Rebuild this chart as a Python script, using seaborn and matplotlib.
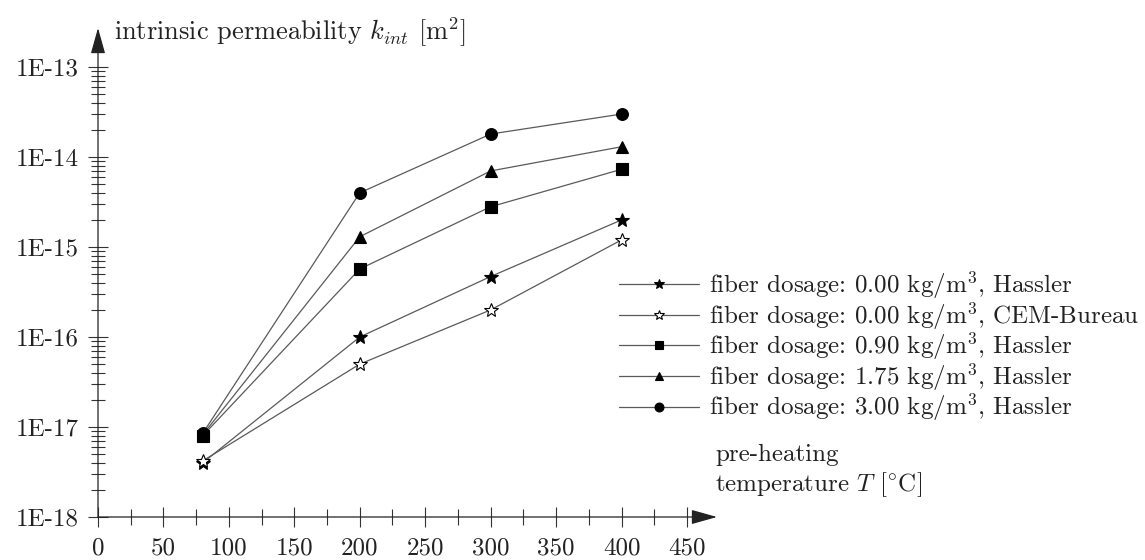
import numpy as np
import pandas as pd
import matplotlib
matplotlib.use("Agg")
import matplotlib.pyplot as plt
import matplotlib.ticker as mticker
import seaborn as sns

# ---- data ----
temperatures = [80, 200, 300, 400]
k_000_hassler = [4.0e-18, 1.0e-16, 4.7e-16, 2.0e-15]
k_000_cem = [4.2e-18, 5.0e-17, 2.0e-16, 1.2e-15]
k_090_hassler = [8.0e-18, 5.7e-16, 2.8e-15, 7.3e-15]
k_175_hassler = [8.2e-18, 1.3e-15, 7.0e-15, 1.3e-14]
k_300_hassler = [8.5e-18, 4.0e-15, 1.8e-14, 3.0e-14]

series_labels = [
    r"fiber dosage: 0.00 $\mathrm{kg/m^3}$, Hassler",
    r"fiber dosage: 0.00 $\mathrm{kg/m^3}$, CEM-Bureau",
    r"fiber dosage: 0.90 $\mathrm{kg/m^3}$, Hassler",
    r"fiber dosage: 1.75 $\mathrm{kg/m^3}$, Hassler",
    r"fiber dosage: 3.00 $\mathrm{kg/m^3}$, Hassler",
]
x_ticks = [0, 50, 100, 150, 200, 250, 300, 350, 400, 450]
y_ticks = [1e-18, 1e-17, 1e-16, 1e-15, 1e-14, 1e-13]
y_tick_labels = ["1E-18", "1E-17", "1E-16", "1E-15", "1E-14", "1E-13"]
y_title = r"intrinsic permeability $k_{int}$ $[\mathrm{m}^2]$"
x_title_1 = "pre-heating"
x_title_2 = r"temperature $T$ $[{}^{\circ}\mathrm{C}]$"

# ---- style ----
sns.set_style("white")
plt.rcParams["font.family"] = ["cmr10", "DejaVu Serif"]
plt.rcParams["mathtext.fontset"] = "cm"
plt.rcParams["axes.unicode_minus"] = False
FS = 18

W, H = 1145, 560
fig = plt.figure(figsize=(W / 100, H / 100), dpi=100)
x0, x_tip = 98, 717
y0, y_tip = 517, 28
ax = fig.add_axes([x0 / W, (H - y0) / H, (x_tip - x0) / W, (y0 - y_tip) / H])

px_per_unit = (687 - 98) / 450.0
xmax = (x_tip - x0) / px_per_unit
ymax = 10 ** (-13 + (67 - 28) / 90.0)

series = [k_000_hassler, k_000_cem, k_090_hassler, k_175_hassler, k_300_hassler]
markers = ["*", "*", "s", "^", "o"]
faces = ["black", "white", "black", "black", "black"]
msizes = [10, 10, 8, 8, 8.5]
line_col = "#5a5a5a"

for vals, lab, m, fc, ms in zip(series, series_labels, markers, faces, msizes):
    df = pd.DataFrame({"T": temperatures, "k": vals})
    sns.lineplot(data=df, x="T", y="k", ax=ax, color=line_col, linewidth=0.9,
                 marker=m, markersize=ms, markerfacecolor=fc,
                 markeredgecolor="black", markeredgewidth=0.8, label=lab,
                 legend=False)

ax.set_xlabel("")
ax.set_ylabel("")
ax.set_yscale("log")
ax.set_xlim(0, xmax)
ax.set_ylim(1e-18, ymax)

for s in ax.spines.values():
    s.set_visible(False)

ax.xaxis.set_major_locator(mticker.FixedLocator(x_ticks))
ax.xaxis.set_minor_locator(mticker.FixedLocator([t + 25 for t in x_ticks[:-1]]))
ax.yaxis.set_major_locator(mticker.FixedLocator(y_ticks))
ax.yaxis.set_major_formatter(mticker.FixedFormatter(y_tick_labels))
minors = [k * 10.0 ** e for e in range(-18, -13) for k in range(2, 10)]
ax.yaxis.set_minor_locator(mticker.FixedLocator(minors))
ax.yaxis.set_minor_formatter(mticker.NullFormatter())

ax.tick_params(axis="both", which="major", direction="inout", length=15,
               width=0.8, color="#333333", labelsize=FS, labelcolor="#222222")
ax.tick_params(axis="x", which="major", pad=7)
ax.tick_params(axis="y", which="major", pad=6)
ax.tick_params(axis="x", which="minor", direction="inout", length=11,
               width=0.8, color="#333333")
ax.tick_params(axis="y", which="minor", direction="inout", length=10,
               width=0.8, color="#333333")
ax.tick_params(left=True, bottom=True, which="both")
ax.grid(False)

arrow_kw = dict(arrowstyle="-|>,head_length=1.6,head_width=0.45",
                color="#222222", lw=0.9, shrinkA=0, shrinkB=0, mutation_scale=10)
ax.annotate("", xy=(1, 0), xytext=(0, 0), xycoords="axes fraction",
            textcoords="axes fraction", arrowprops=arrow_kw, annotation_clip=False)
ax.annotate("", xy=(0, 1), xytext=(0, 0), xycoords="axes fraction",
            textcoords="axes fraction", arrowprops=arrow_kw, annotation_clip=False)

handles, labels = ax.get_legend_handles_labels()
leg = ax.legend(handles, labels, loc="upper left",
                bbox_to_anchor=(619 / W, 1 - 269 / H), bbox_transform=fig.transFigure,
                frameon=False, fontsize=FS, handlelength=3.2, handletextpad=0.4,
                labelspacing=-0.05, borderpad=0, borderaxespad=0, markerscale=0.75)
for t in leg.get_texts():
    t.set_color("#222222")

fig.text(114 / W, 1 - 32 / H, y_title, fontsize=FS + 1, va="center", ha="left", color="#222222")
fig.text(715 / W, 1 - 455 / H, x_title_1, fontsize=FS, va="center", ha="left", color="#222222")
fig.text(715 / W, 1 - 485 / H, x_title_2, fontsize=FS, va="center", ha="left", color="#222222")

fig.savefig("out.png", dpi=100)
